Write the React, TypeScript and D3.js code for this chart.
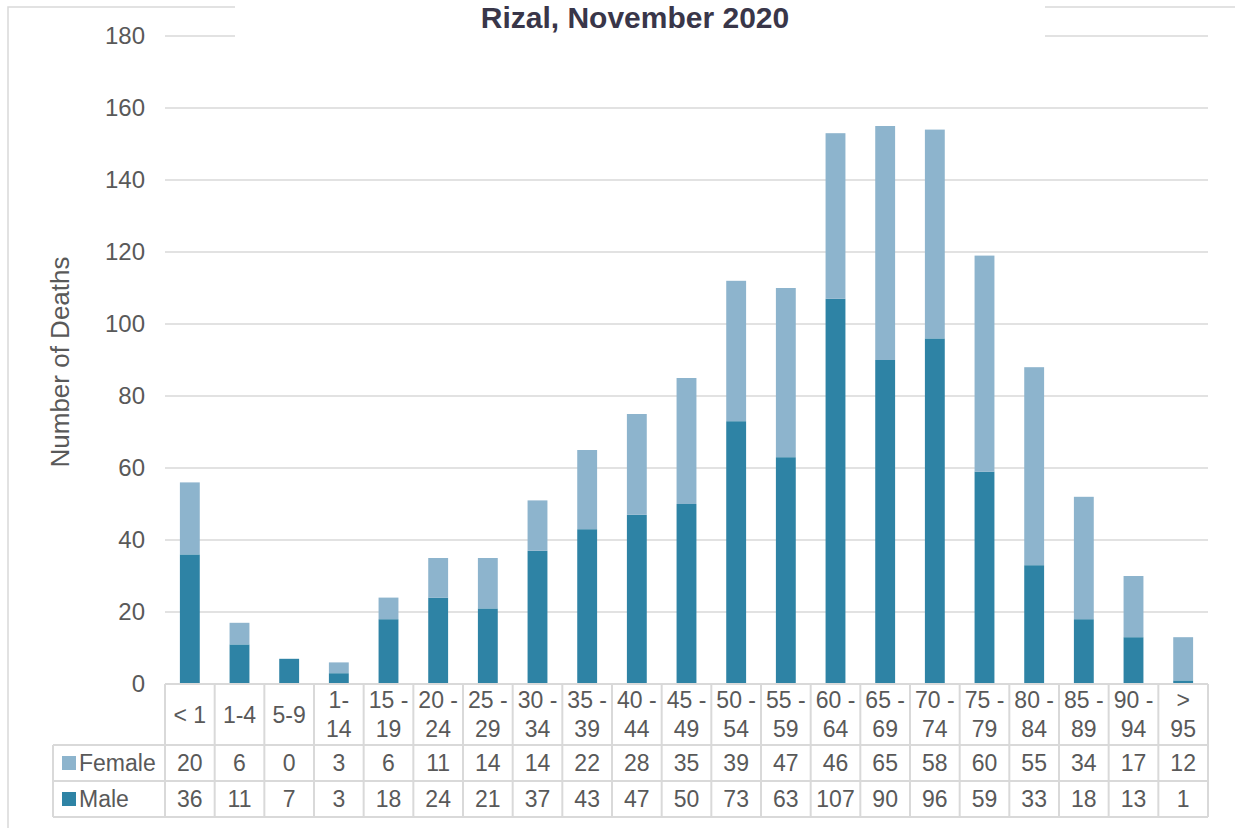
import React from "react";
import * as d3 from "d3";

const categories: string[] = [
  "< 1", "1-4", "5-9", "1-\n14", "15 -\n19", "20 -\n24", "25 -\n29", "30 -\n34",
  "35 -\n39", "40 -\n44", "45 -\n49", "50 -\n54", "55 -\n59", "60 -\n64", "65 -\n69",
  "70 -\n74", "75 -\n79", "80 -\n84", "85 -\n89", "90 -\n94", ">\n95",
];
const female: number[] = [20, 6, 0, 3, 6, 11, 14, 14, 22, 28, 35, 39, 47, 46, 65, 58, 60, 55, 34, 17, 12];
const male: number[] = [36, 11, 7, 3, 18, 24, 21, 37, 43, 47, 50, 73, 63, 107, 90, 96, 59, 33, 18, 13, 1];
const yTicks: number[] = [0, 20, 40, 60, 80, 100, 120, 140, 160, 180];
const seriesNames: string[] = ["Female", "Male"];

const W = 1235;
const H = 828;
const FONT = "'Liberation Sans', Arial, sans-serif";
const MALE_COLOR = "#2e83a5";
const FEMALE_COLOR = "#8db4cd";
const GRID = "#d9d9d9";
const TXT = "#595959";

export default function App() {
  const left = 165;
  const right = 1208;
  const top = 36;
  const bottom = 684;
  const headerBottom = 745;
  const femaleBottom = 781;
  const maleBottom = 817;
  const legendLeft = 53;

  const x = d3.scaleBand<string>().domain(categories).range([left, right]).padding(0);
  const y = d3.scaleLinear().domain([0, 180]).range([bottom, top]);
  const bw = x.bandwidth();
  const barW = bw * 0.4;

  const rows = [
    { name: seriesNames[0], values: female, color: FEMALE_COLOR, y0: headerBottom, y1: femaleBottom },
    { name: seriesNames[1], values: male, color: MALE_COLOR, y0: femaleBottom, y1: maleBottom },
  ];

  return (
    <svg width={W} height={H} style={{ position: "absolute", left: 0, top: 0, fontFamily: FONT }}>
      <rect x={0} y={0} width={W} height={H} fill="#fff" />
      {/* outer frame */}
      <rect x={8} y={7} width={W + 20} height={H + 20} fill="none" stroke={GRID} strokeWidth={1.5} />

      {/* gridlines */}
      {yTicks.map((t) => (
        <line key={t} x1={left} x2={right} y1={y(t)} y2={y(t)} stroke={GRID} strokeWidth={1.5} />
      ))}

      {/* title background + title */}
      <rect x={235} y={0} width={810} height={46} fill="#fff" />
      <text x={635} y={28} textAnchor="middle" fontSize={30} fontWeight="bold" fill="#393649">
        Rizal, November 2020
      </text>

      {/* y tick labels */}
      {yTicks.map((t) => (
        <text key={t} x={145} y={y(t)} dy="0.35em" textAnchor="end" fontSize={24} fill={TXT}>
          {t}
        </text>
      ))}

      {/* y axis title */}
      <text
        transform={`translate(60,${(top + bottom) / 2 + 2}) rotate(-90)`}
        dy="0.35em"
        textAnchor="middle"
        fontSize={26}
        fill={TXT}
      >
        Number of Deaths
      </text>

      {/* bars */}
      {categories.map((c, i) => {
        const bx = (x(c) as number) + (bw - barW) / 2;
        const m = male[i];
        const f = female[i];
        return (
          <g key={c}>
            <rect x={bx} y={y(m)} width={barW} height={y(0) - y(m)} fill={MALE_COLOR} />
            <rect x={bx} y={y(m + f)} width={barW} height={y(m) - y(m + f)} fill={FEMALE_COLOR} />
          </g>
        );
      })}

      {/* data table lines */}
      <line x1={left} x2={right} y1={bottom} y2={bottom} stroke={GRID} strokeWidth={2} />
      <line x1={legendLeft} x2={right} y1={headerBottom} y2={headerBottom} stroke={GRID} strokeWidth={2} />
      <line x1={legendLeft} x2={right} y1={femaleBottom} y2={femaleBottom} stroke={GRID} strokeWidth={2} />
      <line x1={legendLeft} x2={right} y1={maleBottom} y2={maleBottom} stroke={GRID} strokeWidth={2} />
      <line x1={legendLeft} x2={legendLeft} y1={headerBottom} y2={maleBottom} stroke={GRID} strokeWidth={2} />
      {categories.map((c) => (
        <line key={"v" + c} x1={x(c) as number} x2={x(c) as number} y1={bottom} y2={maleBottom} stroke={GRID} strokeWidth={2} />
      ))}
      <line x1={right} x2={right} y1={bottom} y2={maleBottom} stroke={GRID} strokeWidth={2} />

      {/* category labels */}
      {categories.map((c) => {
        const lines = c.split("\n");
        const cx = (x(c) as number) + bw / 2;
        const mid = (bottom + headerBottom) / 2;
        return (
          <text key={"t" + c} x={cx} textAnchor="middle" fontSize={23} fill={TXT}>
            {lines.map((ln, k) => (
              <tspan key={k} x={cx} y={mid + (k - (lines.length - 1) / 2) * 29} dy="0.35em">
                {ln}
              </tspan>
            ))}
          </text>
        );
      })}

      {/* rows */}
      {rows.map((r) => {
        const my = (r.y0 + r.y1) / 2;
        return (
          <g key={r.name}>
            <rect x={62} y={my - 7} width={14} height={14} fill={r.color} />
            <text x={79} y={my} dy="0.35em" fontSize={23} fill={TXT}>
              {r.name}
            </text>
            {r.values.map((v, i) => (
              <text
                key={i}
                x={(x(categories[i]) as number) + bw / 2}
                y={my}
                dy="0.35em"
                textAnchor="middle"
                fontSize={23}
                fill={TXT}
              >
                {v}
              </text>
            ))}
          </g>
        );
      })}
    </svg>
  );
}
